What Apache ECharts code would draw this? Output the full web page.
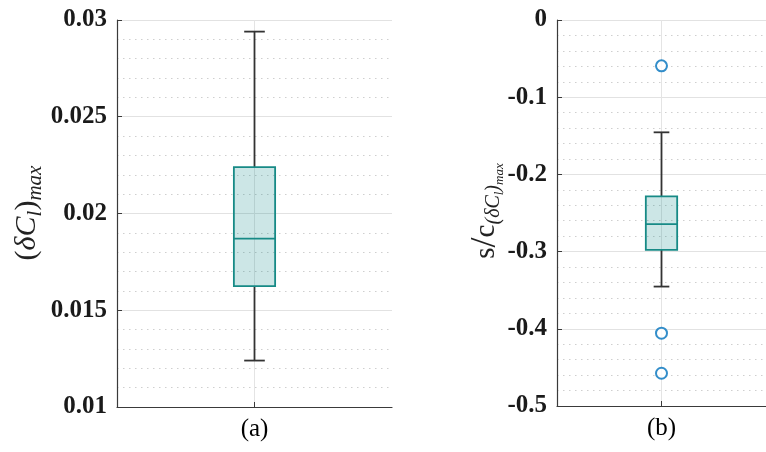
<!DOCTYPE html>
<html>
<head>
<meta charset="utf-8">
<script src="https://cdn.jsdelivr.net/npm/echarts@6/dist/echarts.min.js"></script>
<style>
  html, body { margin: 0; padding: 0; background: #ffffff; }
  #chart { width: 766px; height: 452px; }
</style>
</head>
<body>
<div id="chart"></div>
<script>
// Panel labels (one category per panel)
const panels = ['(a)', '(b)'];

// Box statistics: [lower whisker, Q1, median, Q3, upper whisker]
const statsA = [0.0124, 0.01625, 0.0187, 0.0224, 0.0294];
const statsB = [-0.3453, -0.2977, -0.2643, -0.2285, -0.1455];

// Outlying points of panel (b)
const outliersB = [-0.0594, -0.4057, -0.4576];

// Y-axis ranges: [min, max, major step]
const yRangeA = [0.01, 0.03, 0.005];
const yRangeB = [-0.5, 0, 0.1];

const SERIF = '"Liberation Serif", "Times New Roman", serif';
const AXIS_COLOR = '#3a3a3a';
const BOX_EDGE = '#178a86';
const BOX_FILL = 'rgba(0,128,128,0.2)';
const WHISKER = '#333333';

function renderBox(params, api) {
  const cat = api.value(0);
  const lo = api.value(1), q1 = api.value(2), med = api.value(3),
        q3 = api.value(4), hi = api.value(5);
  const pt = v => api.coord([cat, v]);
  const band = api.size([1, 0])[0];
  const bw = band * 0.15;
  const cap = bw / 2;
  const cx = pt(med)[0];
  const yLo = pt(lo)[1], yQ1 = pt(q1)[1], yMed = pt(med)[1],
        yQ3 = pt(q3)[1], yHi = pt(hi)[1];
  const wStyle = { stroke: WHISKER, lineWidth: 1.8, fill: null };
  const bStyle = { stroke: BOX_EDGE, lineWidth: 1.8 };
  return {
    type: 'group',
    children: [
      { type: 'line', shape: { x1: cx, y1: yQ3, x2: cx, y2: yHi }, style: wStyle },
      { type: 'line', shape: { x1: cx - cap / 2, y1: yHi, x2: cx + cap / 2, y2: yHi }, style: wStyle },
      { type: 'line', shape: { x1: cx, y1: yQ1, x2: cx, y2: yLo }, style: wStyle },
      { type: 'line', shape: { x1: cx - cap / 2, y1: yLo, x2: cx + cap / 2, y2: yLo }, style: wStyle },
      { type: 'rect', shape: { x: cx - bw / 2, y: yQ3, width: bw, height: yQ1 - yQ3 },
        style: { fill: BOX_FILL, stroke: BOX_EDGE, lineWidth: 1.8 } },
      { type: 'line', shape: { x1: cx - bw / 2, y1: yMed, x2: cx + bw / 2, y2: yMed }, style: bStyle }
    ]
  };
}

function xAxisFor(gridIndex, label) {
  return {
    type: 'category',
    gridIndex: gridIndex,
    position: 'bottom',
    data: [label],
    axisLine: { show: true, onZero: false, lineStyle: { color: AXIS_COLOR, width: 1.2 } },
    axisTick: { show: true, inside: true, alignWithLabel: true, length: 5,
                lineStyle: { color: AXIS_COLOR } },
    axisLabel: { color: '#000', fontFamily: SERIF, fontSize: 25, margin: 10 },
    splitLine: { show: true, alignWithLabel: true, lineStyle: { color: '#e4e4e4', width: 1 } }
  };
}

function yAxisFor(gridIndex, range) {
  return {
    type: 'value',
    gridIndex: gridIndex,
    min: range[0], max: range[1], interval: range[2],
    axisLine: { show: true, onZero: false, lineStyle: { color: AXIS_COLOR, width: 1.2 } },
    axisTick: { show: true, inside: true, length: 5, lineStyle: { color: AXIS_COLOR } },
    axisLabel: { color: '#1a1a1a', fontFamily: SERIF, fontSize: 25, fontWeight: 'bold', margin: 10 },
    splitLine: { show: true, lineStyle: { color: '#e2e2e2', width: 1 } },
    minorTick: { show: false, splitNumber: 5 },
    minorSplitLine: { show: true, lineStyle: { color: '#cfcfcf', width: 1, type: [1.5, 4.5] } }
  };
}

const chart = echarts.init(document.getElementById('chart'), null, { renderer: 'canvas' });

chart.setOption({
  animation: false,
  backgroundColor: '#ffffff',
  grid: [
    { left: 117, top: 20, width: 275, height: 387 },
    { left: 557, top: 20, width: 220, height: 386 }
  ],
  xAxis: [xAxisFor(0, panels[0]), xAxisFor(1, panels[1])],
  yAxis: [yAxisFor(0, yRangeA), yAxisFor(1, yRangeB)],
  graphic: [
    {
      type: 'text', x: 27, y: 213, rotation: Math.PI / 2,
      style: {
        text: '{n|(}{i|δC}{s|l}{n|)}{s|max}',
        align: 'center', verticalAlign: 'middle',
        rich: {
          n: { fontFamily: SERIF, fontSize: 30, fill: '#222' },
          i: { fontFamily: SERIF, fontSize: 30, fontStyle: 'italic', fill: '#222' },
          s: { fontFamily: SERIF, fontSize: 21, fontStyle: 'italic', fill: '#222', padding: [16, 0, 0, 0] }
        }
      }
    },
    {
      type: 'text', x: 486, y: 211, rotation: Math.PI / 2,
      style: {
        text: '{n|s}{sl|/}{n|c}{s|(δC}{ss|l}{s|)}{ss|max}',
        align: 'center', verticalAlign: 'middle',
        rich: {
          n: { fontFamily: SERIF, fontSize: 29, fill: '#222' },
          sl: { fontFamily: SERIF, fontSize: 36, fill: '#222' },
          s: { fontFamily: SERIF, fontSize: 20, fontStyle: 'italic', fill: '#222', padding: [16, 0, 0, 0] },
          ss: { fontFamily: SERIF, fontSize: 13, fontStyle: 'italic', fill: '#222', padding: [28, 0, 0, 0] }
        }
      }
    }
  ],
  series: [
    {
      type: 'custom', xAxisIndex: 0, yAxisIndex: 0,
      renderItem: renderBox,
      encode: { x: 0, y: [1, 2, 3, 4, 5] },
      data: [[panels[0]].concat(statsA)],
      z: 3
    },
    {
      type: 'custom', xAxisIndex: 1, yAxisIndex: 1,
      renderItem: renderBox,
      encode: { x: 0, y: [1, 2, 3, 4, 5] },
      data: [[panels[1]].concat(statsB)],
      z: 3
    },
    {
      type: 'scatter', xAxisIndex: 1, yAxisIndex: 1,
      symbol: 'emptyCircle', symbolSize: 11,
      itemStyle: { color: '#0072BD', borderColor: '#0072BD', borderWidth: 1.6 },
      data: outliersB.map(v => [panels[1], v]),
      z: 4
    }
  ]
});
</script>
</body>
</html>
